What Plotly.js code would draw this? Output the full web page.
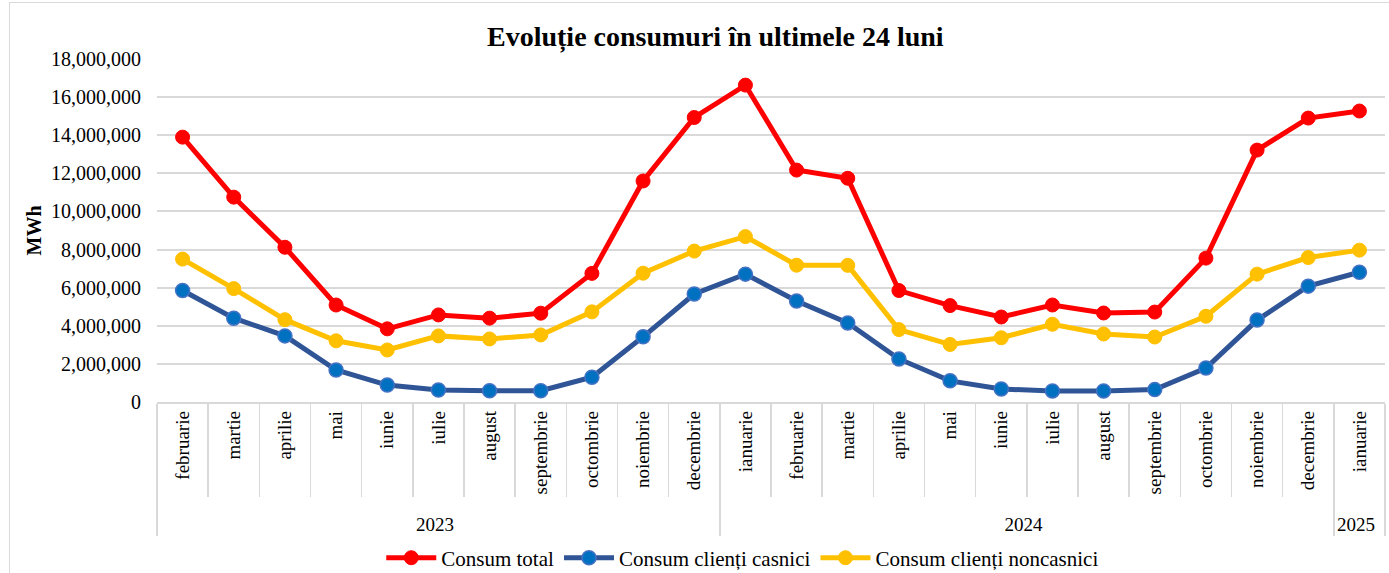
<!DOCTYPE html>
<html>
<head>
<meta charset="utf-8">
<script src="https://cdn.plot.ly/plotly-3.0.1.min.js"></script>
<style>
html,body{margin:0;padding:0;background:#fff;}
#wrap{position:relative;width:1389px;height:573px;}
#chart{width:1389px;height:573px;}
#frame{position:absolute;left:9px;top:2px;width:1385px;height:575px;border:1px solid #d9d9d9;pointer-events:none;}
</style>
</head>
<body>
<div id="wrap"><div id="chart"></div><div id="frame"></div></div>
<script>
// Month labels per point (the 2024 labels carry a zero-width space so the
// multicategory axis keeps them in chronological order inside their year group)
const months = ['februarie','martie','aprilie','mai','iunie','iulie','august','septembrie','octombrie','noiembrie','decembrie',
  'ianuarie\u200b','februarie\u200b','martie\u200b','aprilie\u200b','mai\u200b','iunie\u200b','iulie\u200b','august\u200b',
  'septembrie\u200b','octombrie\u200b','noiembrie\u200b','decembrie\u200b',
  'ianuarie'];
const years = ['2023','2023','2023','2023','2023','2023','2023','2023','2023','2023','2023',
  '2024','2024','2024','2024','2024','2024','2024','2024','2024','2024','2024','2024','2025'];

const consumTotal = [13900000,10750000,8120000,5090000,3840000,4570000,4400000,4660000,6750000,11600000,14930000,16630000,
  12170000,11740000,5850000,5060000,4460000,5090000,4670000,4720000,7550000,13220000,14900000,15270000];
const consumCasnici = [5850000,4400000,3470000,1680000,890000,630000,590000,590000,1300000,3420000,5670000,6710000,
  5300000,4150000,2260000,1110000,680000,580000,580000,650000,1780000,4300000,6080000,6810000];
const consumNoncasnici = [7500000,5950000,4320000,3210000,2730000,3470000,3310000,3520000,4730000,6760000,7920000,8680000,
  7180000,7170000,3800000,3020000,3370000,4080000,3570000,3410000,4500000,6710000,7580000,7970000];

const yTicks = [0,2000000,4000000,6000000,8000000,10000000,12000000,14000000,16000000,18000000];
const seriesNames = ['Consum total','Consum clienți casnici','Consum clienți noncasnici'];
const font = 'Liberation Serif, Times New Roman, serif';

const traces = [
  {name: seriesNames[0], x:[years, months], y: consumTotal, type:'scatter', mode:'lines+markers',
   line:{color:'#FF0000', width:5}, marker:{color:'#FF0000', size:14, line:{color:'#FF0000', width:1}}},
  {name: seriesNames[1], x:[years, months], y: consumCasnici, type:'scatter', mode:'lines+markers',
   line:{color:'#2F5597', width:5}, marker:{color:'#0070C0', size:14, line:{color:'#4472C4', width:1.5}}},
  {name: seriesNames[2], x:[years, months], y: consumNoncasnici, type:'scatter', mode:'lines+markers',
   line:{color:'#FFC000', width:5}, marker:{color:'#FFC000', size:14, line:{color:'#FFC000', width:1}}}
];

const layout = {
  width:1389, height:573,
  paper_bgcolor:'#fff', plot_bgcolor:'#fff',
  margin:{l:157, r:4, t:59, b:171, autoexpand:false},
  font:{family:font, color:'#000', size:20},
  title:{text:'<b>Evoluție consumuri în ultimele 24 luni</b>', font:{family:font, size:28, color:'#000'},
    xref:'container', x:0.515, xanchor:'center', yref:'container', y:0.937, yanchor:'middle'},
  xaxis:{type:'multicategory', range:[-0.5, 23.5], tickangle:-90, tickfont:{family:font, size:19, color:'#000'},
    showline:true, linecolor:'#d9d9d9', linewidth:1.5,
    ticks:'outside', tickson:'boundaries', ticklen:93, tickcolor:'#d9d9d9', tickwidth:1.5,
    showdividers:true, dividercolor:'#d9d9d9', dividerwidth:1.5,
    showgrid:false},
  yaxis:{range:[0,18000000], tickvals:yTicks,
    tickformat:',d', tickfont:{family:font, size:20, color:'#000'},
    showgrid:true, gridcolor:'#d9d9d9', gridwidth:2, zeroline:false, showline:false, ticks:'',
    ticklabelstandoff:15,
    title:{text:'<b>MWh</b>', font:{family:font, size:20, color:'#000'}, standoff:4}},
  showlegend:true,
  legend:{orientation:'h', x:0.477, xanchor:'center', y:-0.455, yanchor:'middle',
    font:{family:font, size:21, color:'#000'}, itemwidth:50, tracegroupgap:0}
};

Plotly.newPlot('chart', traces, layout, {displayModeBar:false, staticPlot:true});
</script>
</body>
</html>
